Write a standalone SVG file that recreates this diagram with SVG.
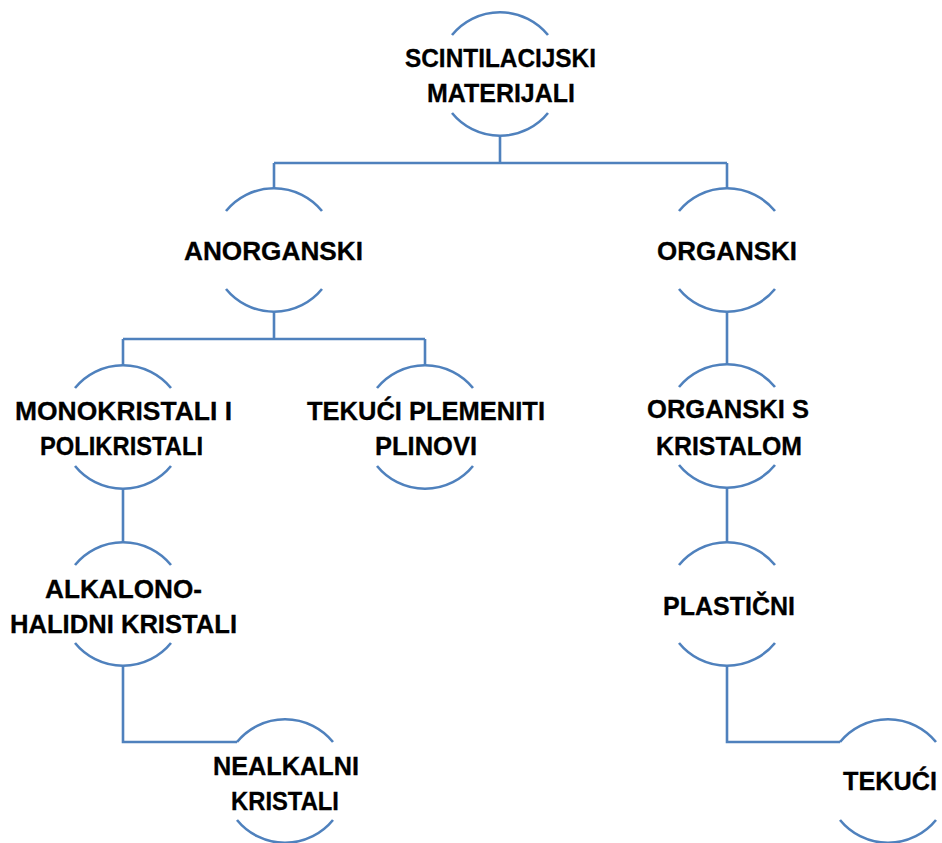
<svg xmlns="http://www.w3.org/2000/svg" width="942" height="843" viewBox="0 0 942 843">
<style>
.arc{fill:none;stroke:#4F81BD;stroke-width:2.6}
.ln{fill:none;stroke:#4F81BD;stroke-width:2.6}
.t{font-family:"Liberation Sans",Arial,sans-serif;font-weight:bold;font-size:26.5px;fill:#000;stroke:#000;stroke-width:0.3}
</style>
<defs>
<g id="circ">
<path class="arc" d="M-48,-39 A62,62 0 0 1 48,-39"/>
<path class="arc" d="M-48,39 A62,62 0 0 0 48,39"/>
</g>
</defs>
<rect width="942" height="843" fill="#fff"/>
<g id="connectors">
<path class="ln" d="M500,136 V163 M274,163 H727 M274,163 V188 M727,163 V188"/>
<path class="ln" d="M274,312 V339 M123,339 H425 M123,339 V365 M425,339 V365"/>
<path class="ln" d="M727,312 V364"/>
<path class="ln" d="M123,489 V542"/>
<path class="ln" d="M727,488 V542"/>
<path class="ln" d="M123,666 V742 H237"/>
<path class="ln" d="M727,666 V742 H840"/>
</g>
<g id="n-root"><use href="#circ" x="500" y="74"/>
<text class="t" x="405" y="67" textLength="191" lengthAdjust="spacingAndGlyphs">SCINTILACIJSKI</text>
<text class="t" x="427" y="102" textLength="148" lengthAdjust="spacingAndGlyphs">MATERIJALI</text></g>
<g id="n-anorganski"><use href="#circ" x="274" y="250"/>
<text class="t" x="184" y="260" textLength="179" lengthAdjust="spacingAndGlyphs">ANORGANSKI</text></g>
<g id="n-organski"><use href="#circ" x="727" y="250"/>
<text class="t" x="657" y="260" textLength="140" lengthAdjust="spacingAndGlyphs">ORGANSKI</text></g>
<g id="n-mono"><use href="#circ" x="123" y="427"/>
<text class="t" x="15" y="420" textLength="217" lengthAdjust="spacingAndGlyphs">MONOKRISTALI I</text>
<text class="t" x="40" y="455" textLength="163" lengthAdjust="spacingAndGlyphs">POLIKRISTALI</text></g>
<g id="n-tekuci-plemeniti"><use href="#circ" x="425" y="427"/>
<text class="t" x="307" y="420" textLength="238" lengthAdjust="spacingAndGlyphs">TEKUĆI PLEMENITI</text>
<text class="t" x="375" y="455" textLength="102" lengthAdjust="spacingAndGlyphs">PLINOVI</text></g>
<g id="n-organski-s"><use href="#circ" x="727" y="426"/>
<text class="t" x="647" y="418" textLength="162" lengthAdjust="spacingAndGlyphs">ORGANSKI S</text>
<text class="t" x="656" y="455" textLength="146" lengthAdjust="spacingAndGlyphs">KRISTALOM</text></g>
<g id="n-alkalono"><use href="#circ" x="123" y="604"/>
<text class="t" x="45" y="598" textLength="157" lengthAdjust="spacingAndGlyphs">ALKALONO-</text>
<text class="t" x="10" y="633" textLength="227" lengthAdjust="spacingAndGlyphs">HALIDNI KRISTALI</text></g>
<g id="n-plasticni"><use href="#circ" x="727" y="604"/>
<text class="t" x="663" y="615" textLength="132" lengthAdjust="spacingAndGlyphs">PLASTIČNI</text></g>
<g id="n-nealkalni"><use href="#circ" x="285" y="781"/>
<text class="t" x="213" y="775" textLength="146" lengthAdjust="spacingAndGlyphs">NEALKALNI</text>
<text class="t" x="231" y="810" textLength="108" lengthAdjust="spacingAndGlyphs">KRISTALI</text></g>
<g id="n-tekuci"><use href="#circ" x="888" y="781"/>
<text class="t" x="843" y="790" textLength="94" lengthAdjust="spacingAndGlyphs">TEKUĆI</text></g>
</svg>
